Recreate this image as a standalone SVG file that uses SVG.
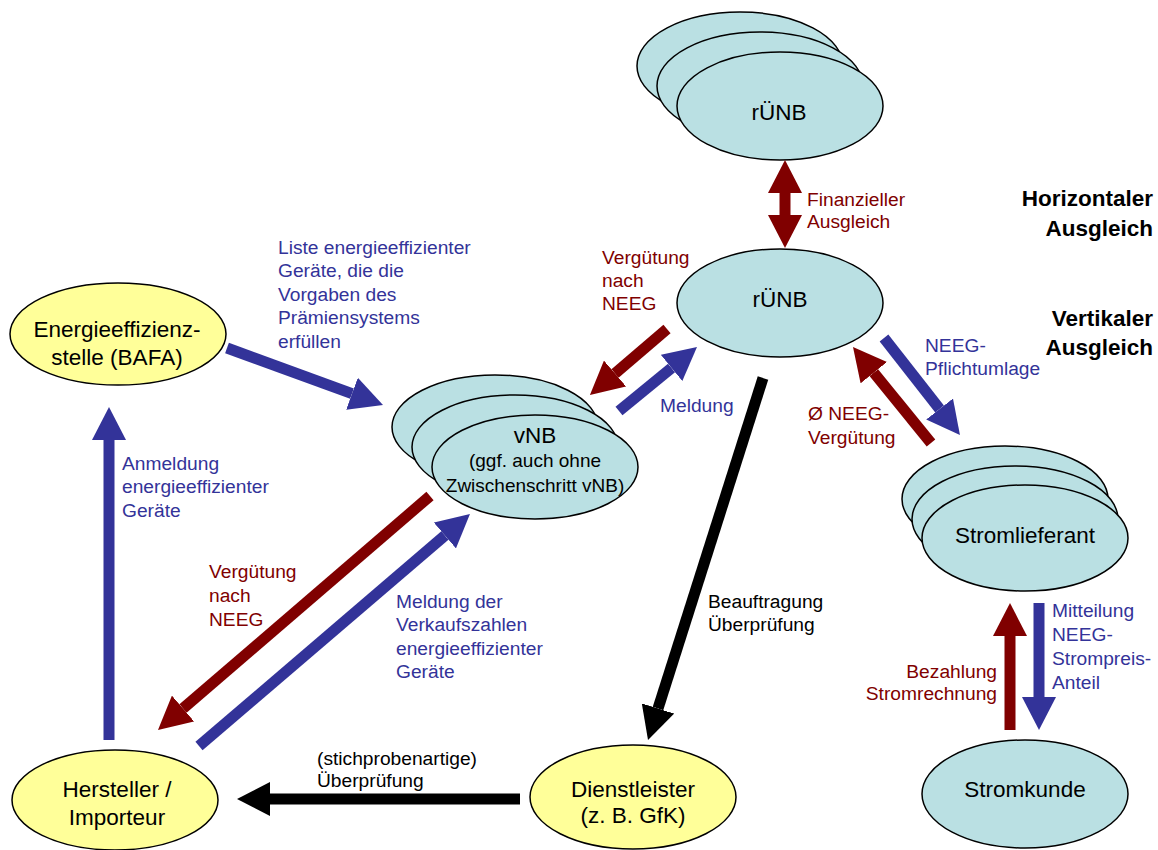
<svg xmlns="http://www.w3.org/2000/svg" width="1158" height="850" viewBox="0 0 1158 850">
<style>
.nb{fill:#BAE0E3;stroke:#000;stroke-width:1.5}
.ny{fill:#FFFF99;stroke:#000;stroke-width:1.5}
text{font-family:"Liberation Sans",Arial,sans-serif}
.nt{font-size:22.5px;fill:#000;text-anchor:middle}
.ns{font-size:19px;fill:#000;text-anchor:middle}
.lr{font-size:19.2px;fill:#800000}
.lb{font-size:19.2px;fill:#333399}
.lk{font-size:19.2px;fill:#000}
.hd{font-size:22.5px;font-weight:bold;fill:#000;text-anchor:end}
.ar{stroke:#800000;stroke-width:11;fill:none}
.ab{stroke:#333399;stroke-width:11;fill:none}
.ak{stroke:#000;stroke-width:11;fill:none}
</style>
<defs>
<marker id="mr" viewBox="0 0 34 34" markerWidth="34" markerHeight="34" markerUnits="userSpaceOnUse" refX="0" refY="17" orient="auto-start-reverse"><path d="M0,0 L33,17 L0,34 Z" fill="#800000"/></marker>
<marker id="mb" viewBox="0 0 34 34" markerWidth="34" markerHeight="34" markerUnits="userSpaceOnUse" refX="0" refY="17" orient="auto-start-reverse"><path d="M0,0 L33,17 L0,34 Z" fill="#333399"/></marker>
<marker id="mk" viewBox="0 0 34 34" markerWidth="34" markerHeight="34" markerUnits="userSpaceOnUse" refX="0" refY="17" orient="auto-start-reverse"><path d="M0,0 L33,17 L0,34 Z" fill="#000"/></marker>
</defs>
<rect width="1158" height="850" fill="#fff"/>

<g id="ruenb-top">
<ellipse class="nb" cx="740" cy="66" rx="103" ry="54"/>
<ellipse class="nb" cx="760" cy="86" rx="103" ry="54"/>
<ellipse class="nb" cx="780" cy="106" rx="103" ry="54"/>
<text class="nt" x="779" y="120">rÜNB</text>
</g>

<g id="ruenb">
<ellipse class="nb" cx="780" cy="303" rx="103" ry="54"/>
<text class="nt" x="780" y="307">rÜNB</text>
</g>

<g id="bafa">
<ellipse class="ny" cx="118" cy="334" rx="108" ry="51"/>
<text class="nt" x="117" y="337">Energieeffizienz-</text>
<text class="nt" x="117" y="365">stelle (BAFA)</text>
</g>

<g id="vnb">
<ellipse class="nb" cx="495" cy="427" rx="103" ry="52"/>
<ellipse class="nb" cx="515" cy="447" rx="103" ry="52"/>
<ellipse class="nb" cx="535" cy="467" rx="103" ry="52"/>
<text class="nt" x="535" y="443">vNB</text>
<text class="ns" x="535" y="467">(ggf. auch ohne</text>
<text class="ns" x="535" y="492">Zwischenschritt vNB)</text>
</g>

<g id="stromlieferant">
<ellipse class="nb" cx="1005" cy="499" rx="103" ry="53"/>
<ellipse class="nb" cx="1015" cy="519" rx="103" ry="53"/>
<ellipse class="nb" cx="1025" cy="538" rx="103" ry="53"/>
<text class="nt" x="1025" y="543">Stromlieferant</text>
</g>

<g id="stromkunde">
<ellipse class="nb" cx="1025" cy="794" rx="103" ry="54"/>
<text class="nt" x="1025" y="797">Stromkunde</text>
</g>

<g id="hersteller">
<ellipse class="ny" cx="115" cy="800" rx="103" ry="50"/>
<text class="nt" x="117" y="797">Hersteller /</text>
<text class="nt" x="117" y="825">Importeur</text>
</g>

<g id="dienstleister">
<ellipse class="ny" cx="633" cy="797" rx="103" ry="52"/>
<text class="nt" x="633" y="797">Dienstleister</text>
<text class="nt" x="633" y="823">(z. B. GfK)</text>
</g>

<g id="connectors">
<line class="ar" x1="785" y1="193" x2="785" y2="215" marker-start="url(#mr)" marker-end="url(#mr)"/>
<line class="ab" x1="227" y1="348" x2="352" y2="393.7" marker-end="url(#mb)"/>
<line class="ab" x1="109" y1="740" x2="109" y2="440" marker-end="url(#mb)"/>
<line class="ar" x1="430" y1="496" x2="183" y2="708.5" marker-end="url(#mr)"/>
<line class="ab" x1="199" y1="746" x2="444.9" y2="535.5" marker-end="url(#mb)"/>
<line class="ar" x1="667" y1="329" x2="615" y2="373.5" marker-end="url(#mr)"/>
<line class="ab" x1="619" y1="411" x2="671.5" y2="367.9" marker-end="url(#mb)"/>
<line class="ak" x1="763" y1="378" x2="658" y2="708.5" marker-end="url(#mk)"/>
<line class="ak" x1="520" y1="799" x2="270" y2="799" marker-end="url(#mk)"/>
<line class="ar" x1="931" y1="443" x2="873.8" y2="372.6" marker-end="url(#mr)"/>
<line class="ab" x1="884" y1="338" x2="939.6" y2="409" marker-end="url(#mb)"/>
<line class="ar" x1="1010" y1="730" x2="1010" y2="636" stroke-width="10" marker-end="url(#mr)"/>
<line class="ab" x1="1039" y1="603" x2="1039" y2="697" stroke-width="9" marker-end="url(#mb)"/>
</g>

<g id="labels">
<text class="lr" x="807" y="206">Finanzieller</text>
<text class="lr" x="807" y="228">Ausgleich</text>
<text class="hd" x="1153" y="206">Horizontaler</text>
<text class="hd" x="1153" y="236">Ausgleich</text>
<text class="hd" x="1153" y="326">Vertikaler</text>
<text class="hd" x="1153" y="355">Ausgleich</text>
<text class="lr" x="602" y="264">Vergütung</text>
<text class="lr" x="602" y="287">nach</text>
<text class="lr" x="602" y="310">NEEG</text>
<text class="lb" x="278" y="254">Liste energieeffizienter</text>
<text class="lb" x="278" y="277">Geräte, die die</text>
<text class="lb" x="278" y="301">Vorgaben des</text>
<text class="lb" x="278" y="324">Prämiensystems</text>
<text class="lb" x="278" y="348">erfüllen</text>
<text class="lb" x="660" y="412">Meldung</text>
<text class="lb" x="925" y="352">NEEG-</text>
<text class="lb" x="925" y="375">Pflichtumlage</text>
<text class="lr" x="808" y="420">Ø NEEG-</text>
<text class="lr" x="808" y="444">Vergütung</text>
<text class="lb" x="122" y="470">Anmeldung</text>
<text class="lb" x="122" y="493">energieeffizienter</text>
<text class="lb" x="122" y="517">Geräte</text>
<text class="lr" x="209" y="578">Vergütung</text>
<text class="lr" x="209" y="602">nach</text>
<text class="lr" x="209" y="626">NEEG</text>
<text class="lb" x="396" y="608">Meldung der</text>
<text class="lb" x="396" y="631">Verkaufszahlen</text>
<text class="lb" x="396" y="655">energieeffizienter</text>
<text class="lb" x="396" y="678">Geräte</text>
<text class="lk" x="708" y="608">Beauftragung</text>
<text class="lk" x="708" y="631">Überprüfung</text>
<text class="lk" x="317" y="765">(stichprobenartige)</text>
<text class="lk" x="317" y="787">Überprüfung</text>
<text class="lr" x="997" y="678" text-anchor="end">Bezahlung</text>
<text class="lr" x="997" y="700" text-anchor="end">Stromrechnung</text>
<text class="lb" x="1052" y="617">Mitteilung</text>
<text class="lb" x="1052" y="641">NEEG-</text>
<text class="lb" x="1052" y="665">Strompreis-</text>
<text class="lb" x="1052" y="689">Anteil</text>
</g>
</svg>
